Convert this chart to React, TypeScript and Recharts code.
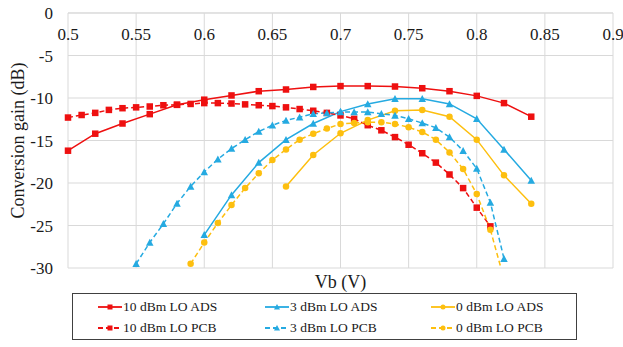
import React from "react";
import { LineChart, Line, XAxis, YAxis, CartesianGrid } from "recharts";

const FONT = "'Liberation Serif', 'Times New Roman', serif";

// Vb ticks and gain ticks
const vbTicks = [0.5, 0.55, 0.6, 0.65, 0.7, 0.75, 0.8, 0.85, 0.9];
const gainTicks = [-30, -25, -20, -15, -10, -5, 0];

// 10 dBm LO
const vb10Ads = [0.5, 0.52, 0.54, 0.56, 0.58, 0.6, 0.62, 0.64, 0.66, 0.68, 0.7, 0.72, 0.74, 0.76, 0.78, 0.8, 0.82, 0.84];
const gain10Ads = [-16.2, -14.2, -13.0, -11.9, -10.8, -10.2, -9.7, -9.2, -9.0, -8.7, -8.6, -8.6, -8.65, -8.85, -9.2, -9.75, -10.6, -12.2];
const vb10Pcb = [0.5, 0.51, 0.52, 0.53, 0.54, 0.55, 0.56, 0.57, 0.58, 0.59, 0.6, 0.61, 0.62, 0.63, 0.64, 0.65, 0.66, 0.67, 0.68, 0.69, 0.7, 0.71, 0.72, 0.73, 0.74, 0.75, 0.76, 0.77, 0.78, 0.79, 0.8, 0.81];
const gain10Pcb = [-12.3, -12.0, -11.75, -11.4, -11.2, -11.1, -11.0, -10.85, -10.8, -10.7, -10.6, -10.6, -10.65, -10.75, -10.85, -10.95, -11.1, -11.3, -11.5, -11.75, -12.05, -12.45, -13.2, -13.8, -14.6, -15.5, -16.5, -17.6, -19.0, -20.6, -22.9, -25.1];

// 3 dBm LO
const vb3Ads = [0.6, 0.62, 0.64, 0.66, 0.68, 0.7, 0.72, 0.74, 0.76, 0.78, 0.8, 0.82, 0.84];
const gain3Ads = [-26.1, -21.4, -17.6, -14.9, -13.0, -11.6, -10.7, -10.1, -10.1, -10.7, -12.45, -16.05, -19.7];
const vb3Pcb = [0.55, 0.56, 0.57, 0.58, 0.59, 0.6, 0.61, 0.62, 0.63, 0.64, 0.65, 0.66, 0.67, 0.68, 0.69, 0.7, 0.71, 0.72, 0.73, 0.74, 0.75, 0.76, 0.77, 0.78, 0.79, 0.8, 0.81, 0.82];
const gain3Pcb = [-29.5, -27.0, -24.8, -22.4, -20.4, -18.7, -17.2, -15.95, -14.9, -13.95, -13.2, -12.65, -12.25, -11.85, -11.75, -11.65, -11.65, -11.65, -11.85, -12.05, -12.45, -12.95, -13.5, -14.6, -16.2, -18.3, -22.3, -28.9];

// 0 dBm LO
const vb0Ads = [0.66, 0.68, 0.7, 0.72, 0.74, 0.76, 0.78, 0.8, 0.82, 0.84];
const gain0Ads = [-20.4, -16.7, -14.15, -12.6, -11.5, -11.4, -12.2, -14.9, -19.1, -22.45];
const vb0Pcb = [0.59, 0.6, 0.61, 0.62, 0.63, 0.64, 0.65, 0.66, 0.67, 0.68, 0.69, 0.7, 0.71, 0.72, 0.73, 0.74, 0.75, 0.76, 0.77, 0.78, 0.79, 0.8, 0.81, 0.82];
const gain0Pcb = [-29.5, -27.0, -24.7, -22.6, -20.6, -18.85, -17.3, -16.05, -14.9, -14.2, -13.6, -13.05, -12.95, -12.85, -12.85, -13.05, -13.45, -14.0, -14.9, -16.4, -18.35, -21.3, -25.5, -31.3];

const RED = "#ee1010";
const BLUE = "#25aae1";
const GOLD = "#fdbf0f";

type Marker = "square" | "triangle" | "circle";

const toPoints = (vb: number[], gain: number[]) => vb.map((v, i) => ({ v, g: gain[i] }));

const series = [
  { name: "10 dBm LO ADS", data: toPoints(vb10Ads, gain10Ads), color: RED, marker: "square" as Marker, dashed: false },
  { name: "3 dBm LO ADS", data: toPoints(vb3Ads, gain3Ads), color: BLUE, marker: "triangle" as Marker, dashed: false },
  { name: "0 dBm LO ADS", data: toPoints(vb0Ads, gain0Ads), color: GOLD, marker: "circle" as Marker, dashed: false },
  { name: "10 dBm LO PCB", data: toPoints(vb10Pcb, gain10Pcb), color: RED, marker: "square" as Marker, dashed: true },
  { name: "3 dBm LO PCB", data: toPoints(vb3Pcb, gain3Pcb), color: BLUE, marker: "triangle" as Marker, dashed: true },
  { name: "0 dBm LO PCB", data: toPoints(vb0Pcb, gain0Pcb), color: GOLD, marker: "circle" as Marker, dashed: true },
];

function markerShape(kind: Marker, cx: number, cy: number, color: string, size: number, key?: any) {
  const h = size / 2;
  if (kind === "square") {
    return <rect key={key} x={cx - h} y={cy - h} width={size} height={size} fill={color} />;
  }
  if (kind === "triangle") {
    return (
      <polygon
        key={key}
        points={`${cx},${cy - h - 0.5} ${cx - h - 0.5},${cy + h} ${cx + h + 0.5},${cy + h}`}
        fill={color}
      />
    );
  }
  return <circle key={key} cx={cx} cy={cy} r={h} fill={color} />;
}

function XTick(props: any) {
  const { x, y, payload } = props;
  return (
    <text x={x} y={y + 27} textAnchor="middle" fontFamily={FONT} fontSize={17} fill="#1a1a1a">
      {payload.value}
    </text>
  );
}

function LegendBox() {
  const cols = [25, 192, 358];
  return (
    <div
      style={{
        position: "absolute",
        left: 72,
        top: 293,
        width: 505,
        height: 47,
        border: "1px solid #404040",
        boxSizing: "border-box",
        fontFamily: FONT,
        fontSize: 13.5,
        color: "#1a1a1a",
      }}
    >
      {series.map((s, i) => (
        <div
          key={s.name}
          style={{
            position: "absolute",
            left: cols[i % 3],
            top: i < 3 ? 4 : 25,
            display: "flex",
            alignItems: "center",
            whiteSpace: "nowrap",
            lineHeight: "18px",
          }}
        >
          <svg width={24} height={10} style={{ marginRight: 1 }}>
            <line
              x1={0}
              y1={5}
              x2={24}
              y2={5}
              stroke={s.color}
              strokeWidth={1.8}
              strokeDasharray={s.dashed ? "5 3" : undefined}
            />
            {markerShape(s.marker, 12, 5, s.color, 5)}
          </svg>
          {s.name}
        </div>
      ))}
    </div>
  );
}

export default function App() {
  return (
    <div style={{ position: "relative", width: 623, height: 347, background: "#fff" }}>
      <style>{"body{margin:0}"}</style>
      <LineChart width={623} height={347} margin={{ top: 12, right: 10, bottom: 79, left: 8 }}>
        <CartesianGrid stroke="#d9d9d9" />
        <XAxis
          type="number"
          dataKey="v"
          orientation="top"
          domain={[0.5, 0.9]}
          ticks={vbTicks}
          height={1}
          tickSize={0}
          tickMargin={0}
          tickLine={false}
          axisLine={{ stroke: "#d9d9d9" }}
          tick={<XTick />}
          allowDuplicatedCategory={false}
        />
        <YAxis
          type="number"
          domain={[-30, 0]}
          ticks={gainTicks}
          allowDataOverflow
          width={60}
          axisLine={false}
          tickLine={false}
          tickMargin={9}
          tick={{ fontFamily: FONT, fontSize: 17, fill: "#1a1a1a" }}
          label={{
            value: "Conversion gain (dB)",
            angle: -90,
            position: "insideLeft",
            offset: 0,
            dx: 10,
            style: { fontFamily: FONT, fontSize: 18, fill: "#1a1a1a", textAnchor: "middle" },
          }}
        />
        {series.map((s) => (
          <Line
            key={s.name}
            data={s.data}
            dataKey="g"
            name={s.name}
            stroke={s.color}
            strokeWidth={1.5}
            strokeDasharray={s.dashed ? "5 3" : undefined}
            isAnimationActive={false}
            dot={(p: any) => markerShape(s.marker, p.cx, p.cy, s.color, 6.5, p.index)}
            activeDot={false}
          />
        ))}
      </LineChart>
      <div
        style={{
          position: "absolute",
          left: 68,
          width: 545,
          top: 272,
          textAlign: "center",
          fontFamily: FONT,
          fontSize: 18,
          color: "#1a1a1a",
        }}
      >
        Vb (V)
      </div>
      <LegendBox />
    </div>
  );
}
